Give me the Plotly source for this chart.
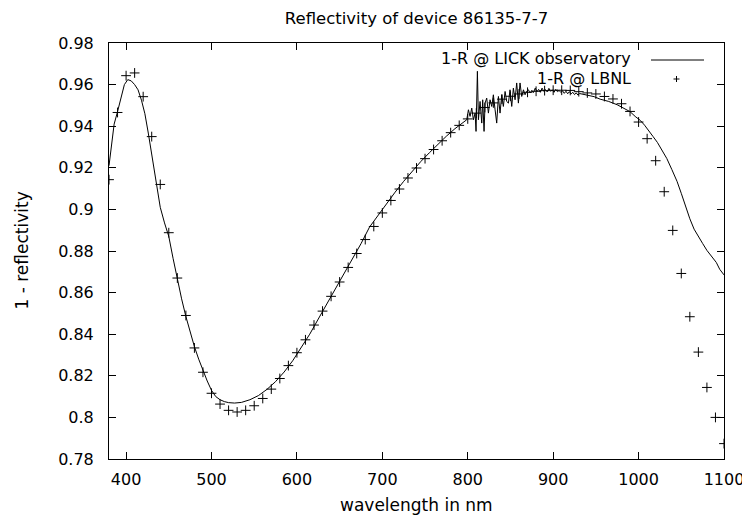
import plotly.graph_objects as go

# ---- data ----
lbnl_wl = [380, 390, 400, 410, 420, 430, 440, 450, 460, 470, 480, 490, 500, 510, 520, 530,
           540, 550, 560, 570, 580, 590, 600, 610, 620, 630, 640, 650, 660, 670, 680, 690,
           700, 710, 720, 730, 740, 750, 760, 770, 780, 790, 800, 810, 820, 830, 840, 850,
           860, 870, 880, 890, 900, 910, 920, 930, 940, 950, 960, 970, 980, 990, 1000, 1010,
           1020, 1030, 1040, 1050, 1060, 1070, 1080, 1090, 1100]
lbnl_val = [0.9143, 0.9466, 0.9643, 0.9656, 0.9542, 0.9350, 0.9120, 0.8888, 0.8670, 0.8490,
            0.8334, 0.8217, 0.8116, 0.8064, 0.8034, 0.8026, 0.8034, 0.8056, 0.8091, 0.8136,
            0.8187, 0.8249, 0.8311, 0.8373, 0.8444, 0.8511, 0.8582, 0.8651, 0.8721, 0.8788,
            0.8855, 0.8918, 0.8983, 0.9043, 0.9098, 0.9151, 0.9199, 0.9244, 0.9288, 0.9330,
            0.9369, 0.9404, 0.9435, 0.9463, 0.9490, 0.9512, 0.9530, 0.9544, 0.9555, 0.9563,
            0.9568, 0.9571, 0.9573, 0.9573, 0.9572, 0.9566, 0.9560, 0.9555, 0.9543, 0.9531,
            0.9508, 0.9471, 0.9420, 0.9340, 0.9234, 0.9085, 0.8899, 0.8692, 0.8484, 0.8314,
            0.8144, 0.8000, 0.7874]

lick_wl = [380, 383, 386, 390, 394, 398, 402, 406, 410, 414, 418, 422, 426, 430, 435, 440,
           445, 450, 455, 460, 465, 470, 475, 480, 485, 490, 495, 500, 505, 510, 515, 520,
           527, 535, 545, 555, 565, 575, 585, 595, 605, 615, 625, 635, 645, 655, 665, 675,
           685, 695, 705, 715, 725, 735, 745, 755, 765, 775, 785, 795,
           798.8, 800.8, 802.7, 804.7, 806.6, 808.6, 809.7, 811.3, 812.5, 814.4, 816.4, 817.5,
           819.1, 820.3, 822.2, 824.2, 826.1, 828.1, 830.0, 832.0, 833.9, 835.9, 837.8, 839.8,
           841.7, 843.7, 845.6, 847.6, 849.5, 851.5, 853.4, 855.4, 857.3, 859.3, 861.2, 863.2,
           865.2, 867.1, 869, 871, 873, 875, 877, 879, 881, 883, 885, 887, 889, 891, 893, 895,
           897, 899, 901, 903, 905, 907, 909, 911, 913, 915, 917, 919, 921, 923, 925, 927, 929,
           931, 940, 948, 955, 965, 975, 983, 990, 996, 1002, 1007, 1012, 1017, 1022, 1027,
           1033, 1039, 1045, 1050, 1055, 1060, 1065, 1070, 1075, 1080, 1085, 1091, 1095, 1100]
lick_val = [0.9210, 0.9320, 0.9410, 0.9470, 0.9540, 0.9600, 0.9624, 0.9618, 0.9600, 0.9575,
            0.9525, 0.9460, 0.9367, 0.9270, 0.9140, 0.9010, 0.8935, 0.8870, 0.8765, 0.8665,
            0.8570, 0.8485, 0.8410, 0.8340, 0.8280, 0.8225, 0.8175, 0.8130, 0.8100, 0.8085,
            0.8076, 0.8071, 0.8069, 0.8072, 0.8085, 0.8105, 0.8135, 0.8172, 0.8218, 0.8272,
            0.8333, 0.8400, 0.8473, 0.8545, 0.8620, 0.8695, 0.8765, 0.8835, 0.8915, 0.8972,
            0.9030, 0.9083, 0.9135, 0.9185, 0.9230, 0.9272, 0.9313, 0.9352, 0.9388, 0.9420,
            0.9431, 0.9479, 0.9447, 0.9487, 0.9431, 0.9463, 0.9375, 0.9664, 0.9431, 0.9519,
            0.9415, 0.9527, 0.9375, 0.9511, 0.9535, 0.9463, 0.9527, 0.9495, 0.9551, 0.9479,
            0.9415, 0.9543, 0.9463, 0.9551, 0.9495, 0.9567, 0.9519, 0.9511, 0.9575, 0.9495,
            0.9583, 0.9527, 0.9608, 0.9511, 0.9608, 0.9543, 0.9575, 0.9551, 0.9568, 0.9575,
            0.9560, 0.9572, 0.9562, 0.9583, 0.9566, 0.9577, 0.9563, 0.9583, 0.9568, 0.9576,
            0.9565, 0.9582, 0.9568, 0.9574, 0.9563, 0.9577, 0.9566, 0.9572, 0.9562, 0.9570,
            0.9558, 0.9568, 0.9556, 0.9566, 0.9555, 0.9563, 0.9552, 0.9560, 0.9550, 0.9557,
            0.9551, 0.9542, 0.9530, 0.9519, 0.9503, 0.9487, 0.9470, 0.9447, 0.9428, 0.9405,
            0.9380, 0.9350, 0.9322, 0.9290, 0.9245, 0.9191, 0.9135, 0.9077, 0.9015, 0.8955,
            0.8905, 0.8868, 0.8836, 0.8803, 0.8774, 0.8745, 0.8712, 0.8685, 0.8654]

x_ticks = [400, 500, 600, 700, 800, 900, 1000, 1100]
x_ticklabels = ["400", "500", "600", "700", "800", "900", "1000", "1100"]
y_ticks = [0.78, 0.80, 0.82, 0.84, 0.86, 0.88, 0.90, 0.92, 0.94, 0.96, 0.98]
y_ticklabels = ["0.78", "0.8", "0.82", "0.84", "0.86", "0.88", "0.9", "0.92", "0.94", "0.96", "0.98"]

title_text = "Reflectivity of device 86135-7-7"
x_title = "wavelength in nm"
y_title = "1 - reflectivity"
legend_names = ["1-R @ LICK observatory", "1-R @ LBNL"]

FONT = "DejaVu Sans, Liberation Sans, Arial, sans-serif"
FS = 17

# figure geometry; the page body adds an 8px offset to everything
OFF = 8
W, H = 750, 519
ML, MT = 109 - OFF, 43 - OFF
PW, PH = 615, 416
MR, MB = W - ML - PW, H - MT - PH


def px(page_x):
    return (page_x - OFF - ML) / PW


def py(page_y):
    return 1 - (page_y - OFF - MT) / PH


fig = go.Figure()
fig.add_trace(go.Scatter(x=lick_wl, y=lick_val, mode="lines", name=legend_names[0],
                         line=dict(color="black", width=1)))
fig.add_trace(go.Scatter(x=lbnl_wl, y=lbnl_val, mode="markers", name=legend_names[1],
                         marker=dict(symbol="cross-thin", size=7, color="black",
                                     line=dict(color="black", width=1))))

axis_common = dict(showline=True, linecolor="black", linewidth=1, mirror="ticks",
                   ticks="inside", ticklen=7, tickcolor="black", showgrid=False,
                   zeroline=False, tickfont=dict(family=FONT, size=16, color="black"))

fig.update_layout(
    width=W, height=H,
    margin=dict(l=ML, r=MR, t=MT, b=MB),
    paper_bgcolor="white", plot_bgcolor="white",
    showlegend=False,
    font=dict(family=FONT, color="black"),
    title=dict(text=title_text, x=(ML + PW / 2) / W, xanchor="center", y=1 - 10 / H,
               yanchor="middle", font=dict(family=FONT, size=16.5, color="black")),
    xaxis=dict(range=[380, 1100], tickvals=x_ticks, ticktext=x_ticklabels,
               ticklabelstandoff=6, **axis_common),
    yaxis=dict(range=[0.78, 0.98], tickvals=y_ticks, ticktext=y_ticklabels,
               ticklabelstandoff=11, **axis_common),
)

# axis titles
fig.add_annotation(text=x_title, xref="paper", yref="paper", x=0.5, y=py(505),
                   xanchor="center", yanchor="middle", showarrow=False,
                   font=dict(family=FONT, size=FS, color="black"))
fig.add_annotation(text=y_title, xref="paper", yref="paper", x=px(21.5), y=0.5,
                   xanchor="center", yanchor="middle", textangle=-90, showarrow=False,
                   font=dict(family=FONT, size=FS, color="black"))

# gnuplot-style key: text on the left, sample on the right
key_rows = [py(58.5), py(78.5)]
for name, yk in zip(legend_names, key_rows):
    fig.add_annotation(text=name, xref="paper", yref="paper", x=px(633), y=yk,
                       xanchor="right", yanchor="middle", showarrow=False,
                       font=dict(family=FONT, size=16, color="black"))
fig.add_shape(type="line", xref="paper", yref="paper",
              x0=px(651), x1=px(704), y0=py(60), y1=py(60),
              line=dict(color="black", width=1))
pc_x, pc_y = px(676.5), py(79)
dx, dy = 3.0 / PW, 3.0 / PH
fig.add_shape(type="line", xref="paper", yref="paper", x0=pc_x - dx, x1=pc_x + dx,
              y0=pc_y, y1=pc_y, line=dict(color="black", width=1))
fig.add_shape(type="line", xref="paper", yref="paper", x0=pc_x, x1=pc_x,
              y0=pc_y - dy, y1=pc_y + dy, line=dict(color="black", width=1))

fig.write_html("out.html")
